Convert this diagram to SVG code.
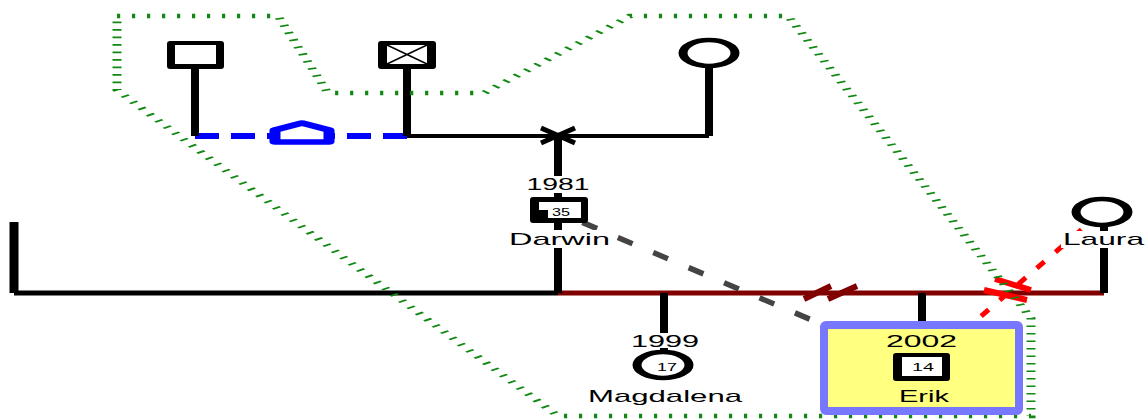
<svg xmlns="http://www.w3.org/2000/svg" width="1146" height="419" viewBox="0 0 1146 419">
<style>
.lbl{font-family:"Liberation Sans",Arial,sans-serif;font-size:17px;fill:#000;text-anchor:middle}
.age{font-family:"Liberation Sans",Arial,sans-serif;font-size:11px;fill:#000;text-anchor:middle}
.drop{stroke:#000;stroke-width:8;fill:none}
.bg{fill:#fff}
.fem{fill:#fff;stroke:#000;stroke-width:4.5}
</style>
<rect width="1146" height="419" fill="#fff"/>
<g id="connectors" fill="none">
  <path d="M14,222 V293" stroke="#000" stroke-width="9"/>
  <path d="M14,293 H558" stroke="#000" stroke-width="5"/>
  <path d="M558,293 H1104" stroke="#800000" stroke-width="5"/>
  <path d="M407,136 H709" stroke="#000" stroke-width="4"/>
  <path d="M195,136 H272 M407,136 H331" stroke="#0000ff" stroke-width="6" stroke-dasharray="24 12"/>
  <g transform="scale(2,1)"><path d="M137.5,130 L151,123 L164.5,130 L164.5,142 L137.5,142 Z" fill="#fff" stroke="#0000ff" stroke-width="5.5" stroke-linejoin="round"/></g>
  <path d="M541,128 L575,143 M541,143 L575,128" stroke="#000" stroke-width="5"/>
  <path d="M195,68 V136 M407,68 V136 M709,68 V136" class="drop"/>
  <path d="M558,136 V293" class="drop"/>
  <path d="M664,293 V352" class="drop"/>
  <path d="M922,293 V322" class="drop"/>
  <path d="M1104,212 V293" class="drop"/>
  <path d="M804,299 L831,286 M828,299 L857,286" stroke="#800000" stroke-width="6"/>
  <path d="M558,212 L922,367" stroke="#444" stroke-width="5.5" stroke-dasharray="16 22.5" stroke-dashoffset="12"/>
  <path d="M1102,212 L922,367" stroke="#ff0000" stroke-width="5" stroke-dasharray="10 14.5" stroke-dashoffset="-2.5"/>
  <path d="M995,279 L1031,290 M984,290 L1027,300" stroke="#ff0000" stroke-width="6"/>
</g>
<g id="group-outline" transform="scale(2,1)">
  <polygon points="58.5,16 139,16 164,93 242,93 315,16 394,16 515.5,318 515.5,416 279,416 58.5,90" fill="none" stroke="#118811" stroke-width="4.5" stroke-dasharray="1.6 5.9"/>
</g>
<g id="node-father">
  <rect x="167" y="41" width="57" height="28" rx="3" fill="#000"/>
  <rect x="175" y="45" width="41" height="19" fill="#fff"/>
</g>
<g id="node-deceased">
  <rect x="378" y="41" width="58" height="28" rx="3" fill="#000"/>
  <rect x="387" y="45" width="40" height="19" fill="#fff"/>
  <path d="M387,45 L427,64 M387,64 L427,45" stroke="#000" stroke-width="1.5"/>
</g>
<g id="node-mother">
  <g transform="translate(709,53) scale(2,1)"><circle r="13" class="fem"/></g>
</g>
<g id="node-darwin">
  <rect x="525" y="176" width="67" height="17" class="bg"/>
  <text x="558" y="190" class="lbl" textLength="63" lengthAdjust="spacingAndGlyphs">1981</text>
  <rect x="530" y="197" width="58" height="26" rx="3" fill="#000"/>
  <rect x="539" y="202" width="42" height="16" fill="#fff"/>
  <rect x="539" y="210" width="9" height="8" fill="#000"/>
  <text x="561" y="216" class="age" textLength="18" lengthAdjust="spacingAndGlyphs">35</text>
  <rect x="507" y="230" width="105" height="18" class="bg"/>
  <text x="559.5" y="245" class="lbl" textLength="101" lengthAdjust="spacingAndGlyphs">Darwin</text>
</g>
<g id="node-laura">
  <g transform="translate(1102,212) scale(2,1)"><circle r="13" class="fem"/></g>
  <rect x="1061" y="231" width="85" height="17" class="bg"/>
  <text x="1103.5" y="245" class="lbl" textLength="81" lengthAdjust="spacingAndGlyphs">Laura</text>
</g>
<g id="node-magdalena">
  <rect x="629" y="333" width="72" height="15" class="bg"/>
  <text x="665" y="347" class="lbl" textLength="68" lengthAdjust="spacingAndGlyphs">1999</text>
  <g transform="translate(663,365) scale(2,1)"><circle r="13" class="fem"/></g>
  <text x="667" y="371" class="age" textLength="20" lengthAdjust="spacingAndGlyphs">17</text>
  <text x="665" y="402" class="lbl" textLength="154" lengthAdjust="spacingAndGlyphs">Magdalena</text>
</g>
<g id="node-erik">
  <rect x="824" y="325" width="195" height="86" rx="2" fill="#ffff80" stroke="#7777ff" stroke-width="8"/>
  <text x="921.5" y="347" class="lbl" textLength="71" lengthAdjust="spacingAndGlyphs">2002</text>
  <rect x="893" y="353" width="57" height="28" rx="3" fill="#000"/>
  <rect x="902" y="357" width="40" height="19" fill="#fff"/>
  <text x="923" y="371" class="age" textLength="22" lengthAdjust="spacingAndGlyphs">14</text>
  <text x="924" y="402" class="lbl" textLength="50" lengthAdjust="spacingAndGlyphs">Erik</text>
</g>
</svg>
